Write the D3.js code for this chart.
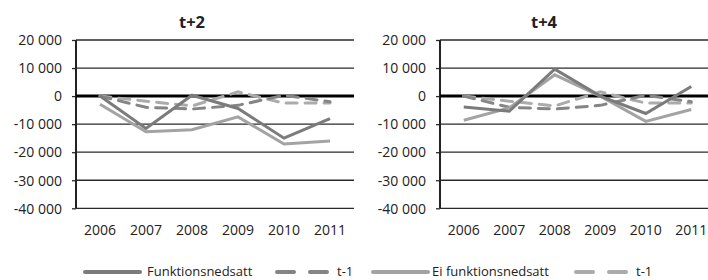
<!DOCTYPE html>
<html><head><meta charset="utf-8">
<script src="https://cdn.jsdelivr.net/npm/d3@7"></script>
<style>
html,body{margin:0;padding:0;background:#fff;overflow:hidden;}
svg{display:block;font-family:"Open Sans",sans-serif;}
</style></head>
<body>
<svg id="c" width="708" height="280"></svg>
<script>
const years = ["2006","2007","2008","2009","2010","2011"];
const yTicks = [20000,10000,0,-10000,-20000,-30000,-40000];
const panelTitles = ["t+2","t+4"];
const t2Funk = [0,-11500,300,-4400,-15000,-8000];
const t2Ei   = [-2900,-12700,-12000,-7400,-17100,-16000];
const t4Funk = [-3900,-5400,9600,0,-6200,3400];
const t4Ei   = [-8600,-4200,7600,0,-9000,-4800];
const t1Funk = [0,-4000,-4600,-3300,300,-2000];
const t1Ei   = [0,-1800,-3500,1500,-2500,-2500];
const legendLabels = ["Funktionsnedsatt","t-1","Ei funktionsnedsatt","t-1"];

const colDarkSolid = "#7b7b7b", colLightSolid = "#a3a3a3";
const colDarkDash = "#858585", colLightDash = "#ababab";

const svg = d3.select("#c");
const fmt = v => d3.format(",")(v).replace(/,/g," ").replace("−","-");

const panels = [
  {x0:77, x1:353, axisX:76, gridEnd:354, title:panelTitles[0], titleX:192, series:[
    {v:t1Ei, c:colLightDash, dash:true},{v:t1Funk, c:colDarkDash, dash:true},
    {v:t2Ei, c:colLightSolid},{v:t2Funk, c:colDarkSolid}]},
  {x0:441, x1:714, axisX:440, gridEnd:708, title:panelTitles[1], titleX:544, series:[
    {v:t1Ei, c:colLightDash, dash:true},{v:t1Funk, c:colDarkDash, dash:true},
    {v:t4Ei, c:colLightSolid},{v:t4Funk, c:colDarkSolid}]}
];

const y = d3.scaleLinear().domain([-40000,20000]).range([208.3,40]);

panels.forEach(p => {
  const x = d3.scalePoint().domain(years).range([p.x0,p.x1]).padding(0.5);
  const g = svg.append("g");
  g.selectAll("line.grid").data(yTicks.filter(d=>d!==0)).join("line")
    .attr("x1",p.axisX).attr("x2",p.gridEnd).attr("y1",d=>y(d)).attr("y2",d=>y(d))
    .attr("stroke","#2a2a2a").attr("stroke-width",1.3);
  const ya = d3.axisLeft(y).tickValues(yTicks).tickSize(4).tickPadding(10).tickFormat(fmt);
  const ag = g.append("g").attr("transform",`translate(${p.axisX},0)`).call(ya);
  ag.select(".domain").remove();
  ag.selectAll(".tick line").attr("stroke","#2a2a2a").attr("stroke-width",1.3);
  ag.selectAll(".tick text").attr("font-size",14).attr("fill","#222").attr("font-family","'Open Sans',sans-serif").attr("dy","0.34em");
  g.append("line").attr("x1",p.axisX).attr("x2",p.axisX).attr("y1",y(20000)).attr("y2",y(-40000))
    .attr("stroke","#222").attr("stroke-width",2);
  g.selectAll("text.xl").data(years).join("text")
    .attr("x",d=>x(d)).attr("y",235).attr("text-anchor","middle")
    .attr("font-size",14).attr("fill","#222").text(d=>d);
  g.append("text").attr("x",p.titleX).attr("y",28).attr("text-anchor","middle")
    .attr("font-size",16.5).attr("font-weight","bold").attr("fill","#222").text(p.title);
  g.append("line").attr("x1",p.axisX).attr("x2",p.gridEnd).attr("y1",y(0)).attr("y2",y(0))
    .attr("stroke","#000").attr("stroke-width",3);
  const line = d3.line().x((d,i)=>x(years[i])).y(d=>y(d));
  p.series.forEach(s => {
    g.append("path").attr("d",line(s.v)).attr("fill","none")
      .attr("stroke",s.c).attr("stroke-width",3)
      .attr("stroke-dasharray",s.dash?"11,8":null)
      .attr("stroke-linejoin","miter").attr("stroke-linecap",s.dash?"round":"butt");
  });
});

const legY = 272;
const leg = [
  {x1:85,x2:140,c:colDarkSolid,dash:false,tx:147,label:legendLabels[0]},
  {x1:277,x2:330,c:colDarkDash,dash:true,tx:337,label:legendLabels[1]},
  {x1:373,x2:428,c:colLightSolid,dash:false,tx:432,label:legendLabels[2]},
  {x1:576,x2:629,c:colLightDash,dash:true,tx:636,label:legendLabels[3]}
];
leg.forEach(l=>{
  svg.append("line").attr("x1",l.x1).attr("x2",l.x2).attr("y1",legY).attr("y2",legY)
    .attr("stroke",l.c).attr("stroke-width",4).attr("stroke-linecap","round")
    .attr("stroke-dasharray",l.dash?"17,16":null);
  svg.append("text").attr("x",l.tx).attr("y",276).attr("font-size",13).attr("fill","#222").text(l.label);
});
</script>
</body></html>
